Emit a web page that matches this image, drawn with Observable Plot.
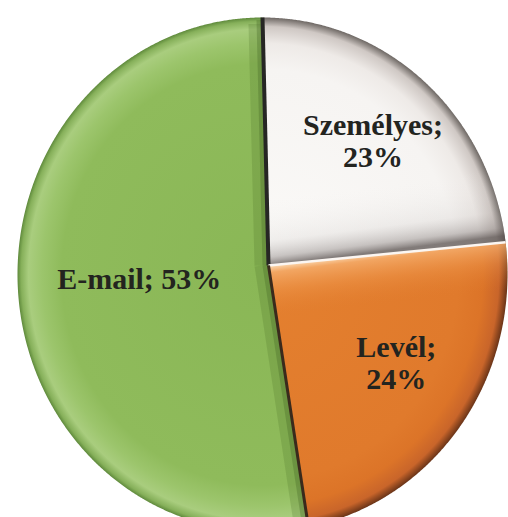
<!DOCTYPE html>
<html><head><meta charset="utf-8">
<script src="https://cdn.jsdelivr.net/npm/d3@7"></script>
<script src="https://cdn.jsdelivr.net/npm/@observablehq/plot@0.6"></script>
<style>body{margin:0;background:#fff} #chart{width:508px;height:517px}</style>
</head><body><div id="chart"></div>
<script>
const categories = ["Személyes", "Levél", "E-mail"];
const values = [23, 24, 53];
const labels = ["Személyes;\n23%", "Levél;\n24%", "E-mail; 53%"];
const colors = ["#f6f4f2", "#e07a2c", "#8fbb5b"];

const W = 508, H = 517, CX = 262, CY = 274, RX = 245, RY = 257;
const AX = 0.0245, AY = 0.035; // apparent apex offset (tilted pie)
const total = d3.sum(values);
let acc = 0;
const slices = values.map((v, i) => {
  const a0 = acc / total * 2 * Math.PI; acc += v;
  const a1 = acc / total * 2 * Math.PI;
  return {i, cat: categories[i], v, a0, a1, mid: (a0 + a1) / 2};
});
function poly(s) {
  const p = [{x: AX, y: AY}];
  const n = Math.ceil((s.a1 - s.a0) / 0.005);
  for (let k = 0; k <= n; k++) {
    const a = s.a0 + (s.a1 - s.a0) * k / n;
    p.push({x: Math.sin(a), y: Math.cos(a)});
  }
  p.push({x: AX, y: AY});
  return p;
}
const bounds = slices.map(s => ({a: s.a0, i: s.i}));
const labelData = slices.map(s => {
  const f = s.v > 50 ? 0.53 : 0.645;
  return {text: labels[s.i], x: AX + f * Math.sin(s.mid), y: AY + f * Math.cos(s.mid)};
});
const boundStyle = [
  {stroke: "#262624", w: 4, shade: true},   // green | white at top
  {stroke: "#fbf6f2", w: 2.5, shade: false}, // white | orange
  {stroke: "#3a2a1c", w: 3, shade: true}    // orange | green
];

const marks = [];
slices.forEach(s => {
  marks.push(Plot.line(poly(s), {x: "x", y: "y", fill: `url(#base${s.i})`, stroke: "none", curve: "linear"}));
});
marks.push(Plot.line(poly(slices[0]), {x: "x", y: "y", fill: "url(#shadeW)", stroke: "none"}));
marks.push(Plot.line(poly(slices[1]), {x: "x", y: "y", fill: "url(#hiO)", stroke: "none"}));
bounds.forEach((b, k) => {
  if (boundStyle[k].shade) {
    marks.push(Plot.link([b], {x1: AX, y1: AY, x2: d => 0.975 * Math.sin(d.a), y2: d => 0.975 * Math.cos(d.a),
      stroke: "#4a6e26", strokeOpacity: 0.22, strokeWidth: 14, dx: -7}));
    marks.push(Plot.link([b], {x1: AX, y1: AY, x2: d => 0.99 * Math.sin(d.a), y2: d => 0.99 * Math.cos(d.a),
      stroke: "#3f6020", strokeOpacity: 0.3, strokeWidth: 6, dx: -3}));
  }
  marks.push(Plot.link([b], {x1: AX, y1: AY, x2: d => Math.sin(d.a), y2: d => Math.cos(d.a),
    stroke: boundStyle[k].stroke, strokeWidth: boundStyle[k].w}));
});
marks.push(Plot.text(labelData, {x: "x", y: "y", text: "text", fontSize: 30, fontWeight: "bold",
  fontFamily: "Liberation Serif, Times New Roman, serif", fill: "#23241f", lineHeight: 1.07,
  textAnchor: "middle", lineAnchor: "middle"}));

const plot = Plot.plot({
  width: W, height: H, margin: 0,
  x: {domain: [-CX / RX, (W - CX) / RX], axis: null},
  y: {domain: [-(H - CY) / RY, CY / RY], axis: null},
  style: {background: "#ffffff"},
  marks
});
const sx = plot.scale("x"), sy = plot.scale("y");
const pcx = sx.apply(0), pcy = sy.apply(0), prx = sx.apply(1) - pcx, pry = pcy - sy.apply(1);
const pax = sx.apply(AX), pay = sy.apply(AY);
const svg = d3.select(plot);
const defs = svg.insert("defs", ":first-child");
function radial(id, stops) {
  const g = defs.append("radialGradient").attr("id", id).attr("gradientUnits", "userSpaceOnUse")
    .attr("cx", pcx).attr("cy", pcy).attr("r", prx)
    .attr("gradientTransform", `translate(${pcx},${pcy}) scale(1,${pry / prx}) translate(${-pcx},${-pcy})`);
  stops.forEach(([o, c]) => g.append("stop").attr("offset", o).attr("stop-color", c));
}
function linear(id, ang, len, stops) {
  const dx = Math.sin(ang), dy = -Math.cos(ang);
  const g = defs.append("linearGradient").attr("id", id).attr("gradientUnits", "userSpaceOnUse")
    .attr("x1", pax).attr("y1", pay)
    .attr("x2", pax + len * dx).attr("y2", pay + len * dy);
  stops.forEach(([o, c, op]) => g.append("stop").attr("offset", o).attr("stop-color", c).attr("stop-opacity", op));
}
radial("base0", [[0, "#fbfaf8"], [0.8, colors[0]], [0.9, "#eeeae7"], [0.965, "#cfc8c4"], [1, "#6e6864"]]);
radial("base1", [[0, "#e4802f"], [0.8, colors[1]], [0.9, "#dc7428"], [0.965, "#c9652a"], [1, "#6a3418"]]);
radial("base2", [[0, "#8ab756"], [0.82, colors[2]], [0.9, "#9cc56c"], [0.955, "#a9cd7e"], [0.985, "#86b05a"], [1, "#5f8a3c"]]);
const aWO = slices[0].a1;
linear("shadeW", aWO - Math.PI / 2, 70, [[0, "#5a5250", 0.75], [0.12, "#8a8280", 0.45], [0.35, "#b0aaa8", 0.15], [1, "#ffffff", 0]]);
linear("hiO", aWO + Math.PI / 2, 90, [[0, "#ffe8c8", 0.9], [0.08, "#f6b070", 0.8], [0.3, "#f09a50", 0.4], [0.6, "#e07a2c", 0]]);
document.getElementById("chart").appendChild(plot);
</script>
</body></html>
